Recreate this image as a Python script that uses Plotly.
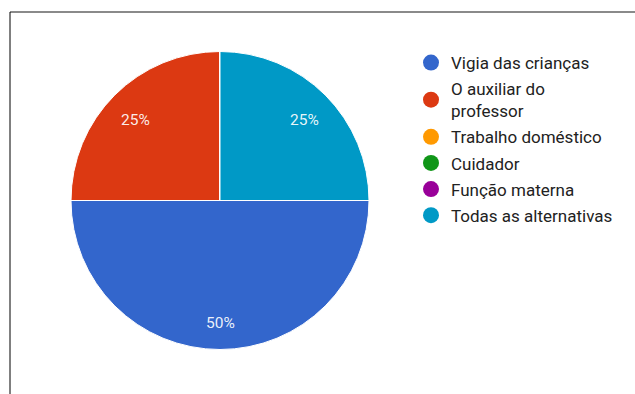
import math
import plotly.graph_objects as go

# Responses per option
categories = [
    "Vigia das crianças",
    "O auxiliar do<br>professor",
    "Trabalho doméstico",
    "Cuidador",
    "Função materna",
    "Todas as alternativas",
]
counts = [2, 1, 0, 0, 0, 1]
colors = ["#3366CC", "#DC3912", "#FF9900", "#109618", "#990099", "#0099C6"]

W, H = 635, 394
total = sum(counts)

# pie geometry in pixels
cx, cy, r = 220, 200.5, 149
start_deg = 90  # first slice starts at 3 o'clock, going clockwise

fig = go.Figure()
fig.add_trace(go.Pie(
    labels=categories,
    values=counts,
    textinfo="none",
    marker=dict(colors=colors, line=dict(color="white", width=1)),
    sort=False,
    direction="clockwise",
    rotation=start_deg,
    showlegend=False,
    hoverinfo="skip",
    domain=dict(x=[(cx - r) / W, (cx + r) / W],
                y=[(H - cy - r) / H, (H - cy + r) / H]),
))

# percentage labels placed along each slice's mid-angle
annotations = []
acc = 0.0
for c in counts:
    if c > 0:
        mid = start_deg + (acc + c / 2) / total * 360
        rad = math.radians(mid)
        f = 0.8
        annotations.append(dict(
            x=cx + f * r * math.sin(rad),
            y=cy - f * r * math.cos(rad),
            xref="x", yref="y", showarrow=False, yshift=-3.5,
            text=f"{c / total * 100:.0f}%",
            font=dict(family="Roboto", size=15.5, color="rgba(255,255,255,0.92)"),
        ))
    acc += c

# legend entries drawn as round markers
for name, col in zip(categories, colors):
    fig.add_trace(go.Scatter(
        x=[None], y=[None], mode="markers", name=name, legendgroup=name,
        marker=dict(symbol="circle", size=16, color=col),
    ))

fig.update_layout(
    width=W, height=H,
    margin=dict(l=0, r=0, t=0, b=0),
    paper_bgcolor="white",
    plot_bgcolor="white",
    xaxis=dict(visible=False, range=[0, W], domain=[0, 1]),
    yaxis=dict(visible=False, range=[H, 0], domain=[0, 1]),
    annotations=annotations,
    legend=dict(
        x=411 / W, y=(H - 45) / H, xanchor="left", yanchor="top",
        font=dict(family="Roboto", size=17, color="#222222"),
        tracegroupgap=1,
        bgcolor="rgba(0,0,0,0)",
    ),
    shapes=[
        dict(type="line", xref="paper", yref="paper",
             x0=10 / W, x1=1, y0=(H - 12) / H, y1=(H - 12) / H,
             line=dict(color="#8a8a8a", width=2)),
        dict(type="line", xref="paper", yref="paper",
             x0=10 / W, x1=10 / W, y0=0, y1=(H - 12) / H,
             line=dict(color="black", width=1)),
    ],
)

fig.write_html("out.html")
